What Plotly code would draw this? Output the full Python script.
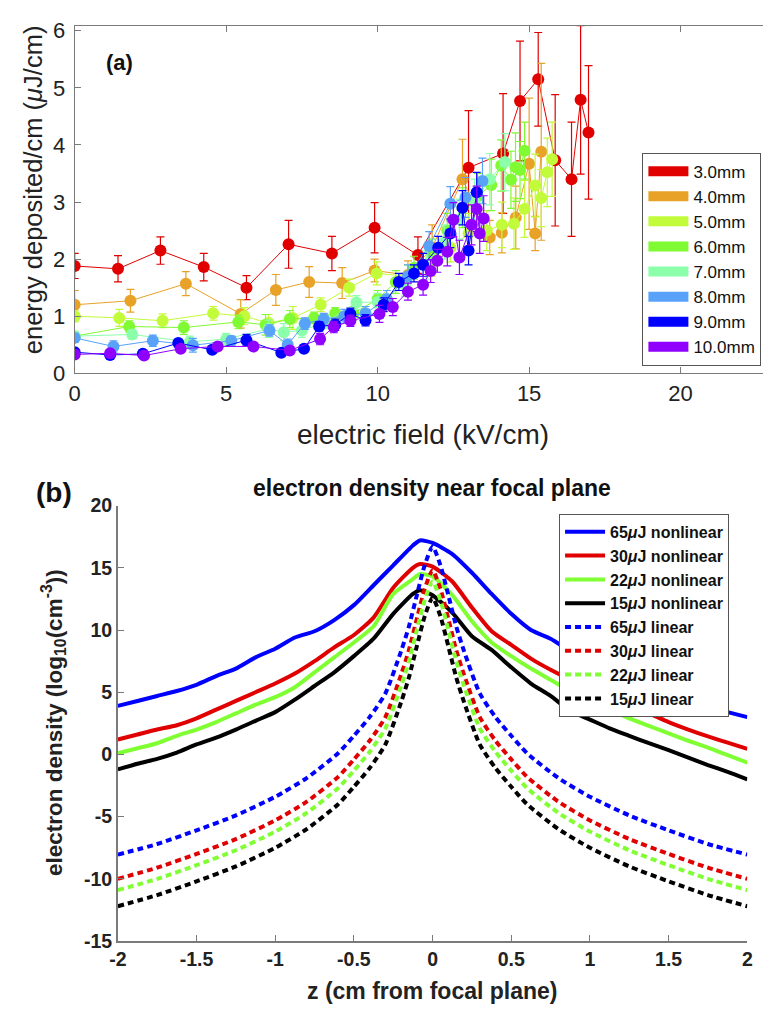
import plotly.graph_objects as go

FONT = "Arial, 'Liberation Sans', Helvetica, sans-serif"
W, H = 769, 1020

# ---------------- panel (a) data ----------------
LABELS_A = ["3.0mm", "4.0mm", "5.0mm", "6.0mm", "7.0mm", "8.0mm", "9.0mm", "10.0mm"]
COLORS_A = ["#e00000", "#e8a228", "#c2fb3a", "#80fa33", "#8cffaa", "#58a2fa", "#0000ff", "#9000ff"]

E_3mm = [0, 1.43, 2.83, 4.26, 5.67, 7.06, 8.49, 9.9, 11.33, 13.0, 14.14, 14.7, 15.3, 15.86, 16.4, 16.7, 16.96]
V_3mm = [1.88, 1.83, 2.15, 1.86, 1.50, 2.26, 2.10, 2.55, 2.07, 3.60, 3.85, 4.77, 5.15, 3.73, 3.40, 4.79, 4.22]
ERR_3mm = [0.22, 0.23, 0.24, 0.24, 0.21, 0.42, 0.30, 0.44, 0.32, 1.0, 1.05, 1.05, 0.82, 1.15, 1.0, 1.3, 1.17]

E_4mm = [0, 1.84, 3.67, 5.48, 6.64, 7.74, 8.83, 9.9, 11.0, 11.8, 12.8, 13.7, 14.1, 14.56, 15.0, 15.2, 15.4]
V_4mm = [1.2, 1.27, 1.57, 1.04, 1.46, 1.6, 1.58, 1.8, 1.72, 2.2, 3.4, 2.38, 2.46, 2.73, 3.67, 2.45, 3.88]
ERR_4mm = [0.25, 0.2, 0.21, 0.25, 0.27, 0.27, 0.27, 0.2, 0.25, 0.4, 0.7, 0.3, 0.35, 0.55, 1.15, 0.3, 1.55]

E_5mm = [0, 1.47, 2.9, 4.57, 5.6, 6.4, 7.2, 8.12, 9.06, 9.97, 11.0, 11.8, 12.4, 13.0, 13.6, 14.1, 14.5, 14.85, 15.2, 15.4, 15.6, 15.76]
V_5mm = [1.0, 0.97, 0.92, 1.05, 1.0, 0.88, 0.97, 1.2, 1.5, 1.75, 1.7, 1.95, 2.2, 2.45, 2.5, 2.6, 2.62, 2.88, 3.29, 3.07, 3.52, 3.75]
ERR_5mm = [0.1, 0.15, 0.12, 0.12, 0.15, 0.15, 0.2, 0.12, 0.15, 0.2, 0.2, 0.25, 0.25, 0.35, 0.35, 0.4, 0.45, 0.5, 0.55, 0.5, 0.6, 0.65]

E_6mm = [0, 1.8, 3.6, 5.4, 6.3, 7.1, 7.9, 8.6, 9.2, 10.0, 10.6, 11.2, 11.8, 12.3, 12.8, 13.3, 13.75, 14.08, 14.4, 14.55, 14.7, 14.85]
V_6mm = [0.65, 0.82, 0.8, 0.9, 0.85, 0.95, 0.97, 1.05, 1.05, 1.3, 1.6, 1.85, 2.1, 2.5, 2.9, 3.1, 3.3, 3.64, 3.39, 3.61, 3.56, 3.9]
ERR_6mm = [0.08, 0.1, 0.12, 0.12, 0.18, 0.15, 0.1, 0.1, 0.12, 0.15, 0.2, 0.2, 0.25, 0.3, 0.35, 0.4, 0.45, 0.45, 0.5, 0.6, 0.5, 0.5]

E_7mm = [0, 1.9, 3.8, 5.0, 6.4, 6.9, 7.5, 8.3, 9.3, 10.0, 10.9, 11.6, 12.2, 12.7, 13.2, 13.7, 14.2]
V_7mm = [0.65, 0.68, 0.55, 0.6, 0.78, 0.72, 0.75, 0.9, 1.24, 1.25, 1.55, 1.9, 2.3, 2.7, 3.0, 3.4, 3.7]
ERR_7mm = [0.08, 0.08, 0.1, 0.1, 0.15, 0.15, 0.12, 0.12, 0.12, 0.15, 0.2, 0.25, 0.3, 0.35, 0.4, 0.45, 0.5]

E_8mm = [0, 1.28, 2.58, 3.9, 5.17, 6.43, 7.03, 7.6, 8.22, 8.9, 9.6, 10.3, 11.0, 11.7, 12.4, 12.9, 13.46]
V_8mm = [0.62, 0.47, 0.57, 0.49, 0.57, 0.75, 0.5, 0.87, 0.95, 1.0, 1.05, 1.3, 1.7, 2.23, 2.97, 3.08, 3.37]
ERR_8mm = [0.08, 0.1, 0.1, 0.12, 0.08, 0.1, 0.1, 0.1, 0.1, 0.12, 0.12, 0.15, 0.2, 0.25, 0.3, 0.35, 0.4]

E_9mm = [0, 1.17, 2.25, 3.42, 4.54, 5.67, 6.82, 7.57, 8.07, 8.6, 9.1, 9.6, 10.2, 10.7, 11.2, 11.5, 12.0, 12.4, 12.8, 13.0, 13.27]
V_9mm = [0.37, 0.32, 0.34, 0.53, 0.41, 0.58, 0.36, 0.43, 0.82, 0.85, 1.04, 0.93, 1.2, 1.6, 1.75, 1.9, 2.2, 2.45, 2.9, 2.15, 3.17]
ERR_9mm = [0.05, 0.05, 0.05, 0.06, 0.06, 0.1, 0.05, 0.06, 0.08, 0.1, 0.1, 0.1, 0.12, 0.15, 0.15, 0.2, 0.2, 0.25, 0.3, 0.25, 0.35]

E_10mm = [0, 1.17, 2.29, 3.5, 4.72, 5.9, 7.1, 8.1, 8.55, 9.1, 10.06, 10.5, 11.0, 11.5, 11.75, 11.97, 12.3, 12.5, 12.7, 13.1, 13.27, 13.37, 13.5]
V_10mm = [0.33, 0.35, 0.31, 0.43, 0.47, 0.47, 0.4, 0.6, 0.81, 0.92, 1.04, 1.16, 1.43, 1.55, 1.79, 1.97, 2.13, 2.69, 2.03, 2.6, 2.88, 2.45, 2.71]
ERR_10mm = [0.05, 0.05, 0.05, 0.06, 0.06, 0.06, 0.06, 0.1, 0.1, 0.1, 0.15, 0.15, 0.15, 0.18, 0.2, 0.2, 0.25, 0.3, 0.3, 0.35, 0.4, 0.35, 0.4]

SERIES_A = [
    (E_3mm, V_3mm, ERR_3mm), (E_4mm, V_4mm, ERR_4mm), (E_5mm, V_5mm, ERR_5mm),
    (E_6mm, V_6mm, ERR_6mm), (E_7mm, V_7mm, ERR_7mm), (E_8mm, V_8mm, ERR_8mm),
    (E_9mm, V_9mm, ERR_9mm), (E_10mm, V_10mm, ERR_10mm),
]

# ---------------- panel (b) data ----------------
Z_NL = [-2, -1.875, -1.75, -1.625, -1.5, -1.375, -1.25, -1.125, -1.0, -0.875, -0.75, -0.625, -0.5,
        -0.375, -0.25, -0.125, -0.08, 0, 0.125, 0.25, 0.375, 0.5, 0.625, 0.75, 0.875, 1.0, 1.125,
        1.25, 1.375, 1.5, 1.625, 1.75, 1.875, 2.0]
NL_65 = [3.9, 4.3, 4.7, 5.1, 5.6, 6.3, 6.9, 7.8, 8.5, 9.4, 9.9, 10.8, 12.0, 13.6, 15.2, 16.8, 17.2,
         17.0, 16.1, 14.6, 12.9, 11.3, 10.0, 9.3, 8.3, 7.5, 6.8, 6.1, 5.4, 4.8, 4.2, 3.8, 3.4, 3.0]
NL_30 = [1.2, 1.6, 2.0, 2.35, 2.9, 3.6, 4.3, 5.0, 5.7, 6.5, 7.5, 8.6, 9.6, 11.0, 13.4, 15.0, 15.3,
         15.1, 13.9, 11.8, 9.9, 8.8, 7.7, 6.8, 6.0, 5.3, 4.6, 3.9, 3.3, 2.6, 2.0, 1.45, 0.95, 0.45]
NL_22 = [0.1, 0.5, 0.9, 1.5, 2.0, 2.6, 3.3, 4.0, 4.6, 5.4, 6.6, 7.8, 9.0, 10.3, 12.9, 14.1, 14.5,
         14.3, 12.8, 10.7, 9.0, 7.9, 6.9, 6.0, 5.1, 4.3, 3.6, 2.9, 2.3, 1.7, 1.1, 0.55, -0.05, -0.65]
NL_15 = [-1.2, -0.75, -0.35, 0.15, 0.8, 1.35, 2.0, 2.7, 3.4, 4.4, 5.5, 6.6, 7.9, 9.3, 11.3, 12.9, 13.2,
         12.8, 11.4, 9.5, 8.4, 7.0, 5.7, 4.7, 3.5, 2.8, 2.1, 1.5, 0.9, 0.35, -0.25, -0.85, -1.4, -2.0]

Z_LIN = [-2, -1.75, -1.5, -1.25, -1.0, -0.8, -0.6, -0.5, -0.4, -0.3, -0.2, -0.15, -0.1, -0.05, 0,
         0.05, 0.1, 0.15, 0.2, 0.3, 0.4, 0.5, 0.6, 0.8, 1.0, 1.25, 1.5, 1.75, 2]
LIN_65 = [-8.05, -7.2, -6.1, -4.9, -3.4, -1.9, 0.1, 1.5, 3.0, 4.9, 8.3, 10.3, 12.8, 15.2, 16.7,
          15.2, 12.8, 10.3, 8.3, 4.9, 3.0, 1.5, 0.1, -1.9, -3.4, -4.9, -6.1, -7.2, -8.05]
LIN_30 = [-10.0, -9.1, -8.0, -6.8, -5.3, -3.8, -1.8, -0.4, 1.1, 3.0, 6.4, 8.4, 10.9, 13.3, 14.8,
          13.3, 10.9, 8.4, 6.4, 3.0, 1.1, -0.4, -1.8, -3.8, -5.3, -6.8, -8.0, -9.1, -10.0]
LIN_22 = [-10.9, -10.0, -8.9, -7.7, -6.2, -4.7, -2.7, -1.3, 0.2, 2.1, 5.5, 7.5, 10.0, 12.4, 13.9,
          12.4, 10.0, 7.5, 5.5, 2.1, 0.2, -1.3, -2.7, -4.7, -6.2, -7.7, -8.9, -10.0, -10.9]
LIN_15 = [-12.2, -11.3, -10.2, -9.0, -7.5, -6.0, -4.0, -2.6, -1.1, 0.8, 4.2, 6.2, 8.7, 11.1, 12.6,
          11.1, 8.7, 6.2, 4.2, 0.8, -1.1, -2.6, -4.0, -6.0, -7.5, -9.0, -10.2, -11.3, -12.2]

LABELS_B = ["65<i>μ</i>J nonlinear", "30<i>μ</i>J nonlinear", "22<i>μ</i>J nonlinear", "15<i>μ</i>J nonlinear",
            "65<i>μ</i>J linear", "30<i>μ</i>J linear", "22<i>μ</i>J linear", "15<i>μ</i>J linear"]
COLORS_B = ["#0000ff", "#e00000", "#80ff33", "#000000"]

X_TICKS_A = [0, 5, 10, 15, 20]
Y_TICKS_A = [0, 1, 2, 3, 4, 5, 6]
X_TICKS_B = [-2, -1.5, -1, -0.5, 0, 0.5, 1, 1.5, 2]
X_TICKTEXT_B = ["-2", "-1.5", "-1", "-0.5", "0", "0.5", "1", "1.5", "2"]
Y_TICKS_B = [-15, -10, -5, 0, 5, 10, 15, 20]
Y_TICKTEXT_B = ["-15", "-10", "-5", "0", "5", "10", "15", "20"]

fig = go.Figure()

# ---- panel (a) traces ----
for (E, V, ERR), color, label in zip(SERIES_A, COLORS_A, LABELS_A):
    fig.add_trace(go.Scatter(
        x=E, y=V, mode="lines+markers", xaxis="x", yaxis="y", showlegend=False,
        line=dict(color=color, width=1),
        marker=dict(color=color, size=12, line=dict(width=0)),
        error_y=dict(type="data", array=ERR, visible=True, color=color, thickness=1.2, width=4),
    ))
for color, label in zip(COLORS_A, LABELS_A):
    fig.add_trace(go.Scatter(
        x=[None], y=[None], mode="lines", xaxis="x", yaxis="y", name=label,
        legend="legend", line=dict(color=color, width=10),
    ))

# ---- panel (b) traces ----
for vals, color, label in zip([NL_65, NL_30, NL_22, NL_15], COLORS_B, LABELS_B[:4]):
    fig.add_trace(go.Scatter(
        x=Z_NL, y=vals, mode="lines", xaxis="x2", yaxis="y2", name=label, legend="legend2",
        line=dict(color=color, width=4, shape="spline", smoothing=0.6),
    ))
for vals, color, label in zip([LIN_65, LIN_30, LIN_22, LIN_15], COLORS_B, LABELS_B[4:]):
    fig.add_trace(go.Scatter(
        x=Z_LIN, y=vals, mode="lines", xaxis="x2", yaxis="y2", name=label, legend="legend2",
        line=dict(color=color, width=4, dash="6px,4px", shape="spline", smoothing=0.6),
    ))

AX_COLOR = "#7a7a7a"

def px_x(p):
    return p / W

def px_y(p):
    return 1 - p / H

fig.update_layout(
    width=W, height=H,
    margin=dict(l=0, r=0, t=0, b=0),
    paper_bgcolor="white", plot_bgcolor="white",
    font=dict(family=FONT, color="#222222"),
    xaxis=dict(
        domain=[px_x(67), 1.0], range=[0, 22.72], anchor="y",
        tickvals=X_TICKS_A, ticks="inside", ticklen=6, tickcolor=AX_COLOR, tickwidth=1,
        showline=True, linecolor=AX_COLOR, linewidth=1.2, mirror="ticks",
        showgrid=False, zeroline=False, tickfont=dict(family=FONT, size=22, color="#222222"),
    ),
    yaxis=dict(
        domain=[px_y(371), px_y(15)], range=[0, 6.09], anchor="x",
        tickvals=Y_TICKS_A, ticks="inside", ticklen=6, tickcolor=AX_COLOR, tickwidth=1,
        showline=True, linecolor=AX_COLOR, linewidth=1.2,
        showgrid=False, zeroline=False, tickfont=dict(family=FONT, size=22, color="#222222"),
        ticklabelstandoff=4,
    ),
    xaxis2=dict(
        domain=[px_x(111), px_x(753)], range=[-2, 2], anchor="y2",
        tickvals=X_TICKS_B, ticktext=X_TICKTEXT_B, ticks="inside", ticklen=6,
        tickcolor=AX_COLOR, tickwidth=1.2,
        showline=True, linecolor=AX_COLOR, linewidth=1.5,
        showgrid=False, zeroline=False,
        tickfont=dict(family=FONT, size=19.5, color="#222222", weight="bold"),
    ),
    yaxis2=dict(
        domain=[px_y(952.5), px_y(506.5)], range=[-15, 20], anchor="x2",
        tickvals=Y_TICKS_B, ticktext=Y_TICKTEXT_B, ticks="inside", ticklen=6,
        tickcolor=AX_COLOR, tickwidth=1.2,
        showline=True, linecolor=AX_COLOR, linewidth=1.5,
        showgrid=False, zeroline=False,
        tickfont=dict(family=FONT, size=19.5, color="#222222", weight="bold"),
    ),
    legend=dict(
        x=px_x(646), y=px_y(145), xanchor="left", yanchor="top",
        bgcolor="white", bordercolor="#555555", borderwidth=1,
        font=dict(family=FONT, size=17, color="#111111"),
        tracegroupgap=0, itemwidth=40,
    ),
    legend2=dict(
        x=px_x(561), y=px_y(515), xanchor="left", yanchor="top",
        bgcolor="white", bordercolor="#555555", borderwidth=1,
        font=dict(family=FONT, size=16, color="#111111", weight="bold"),
        tracegroupgap=0, itemwidth=40,
    ),
    showlegend=True,
)

annotations = [
    dict(text="energy deposited/cm (<i>μ</i>J/cm)", x=px_x(24), y=px_y(183), textangle=-90,
         font=dict(family=FONT, size=25.5, color="#222222")),
    dict(text="electric field (kV/cm)", x=px_x(422), y=px_y(434),
         font=dict(family=FONT, size=28, color="#222222")),
    dict(text="(a)", x=px_x(113), y=px_y(53),
         font=dict(family=FONT, size=22, color="#111111", weight="bold")),
    dict(text="(b)", x=px_x(46), y=px_y(493),
         font=dict(family=FONT, size=28, color="#111111", weight="bold")),
    dict(text="electron density near focal plane", x=px_x(431), y=px_y(489),
         font=dict(family=FONT, size=23, color="#111111", weight="bold")),
    dict(text="electron density (log<sub>10</sub>(cm<sup>-3</sup>))", x=px_x(46), y=px_y(729),
         textangle=-90, font=dict(family=FONT, size=22.5, color="#222222", weight="bold")),
    dict(text="z (cm from focal plane)", x=px_x(431), y=px_y(1004),
         font=dict(family=FONT, size=23, color="#222222", weight="bold")),
]
for a in annotations:
    a.update(xref="paper", yref="paper", showarrow=False, xanchor="center", yanchor="middle")
fig.update_layout(annotations=annotations)

fig.write_html("out.html")
